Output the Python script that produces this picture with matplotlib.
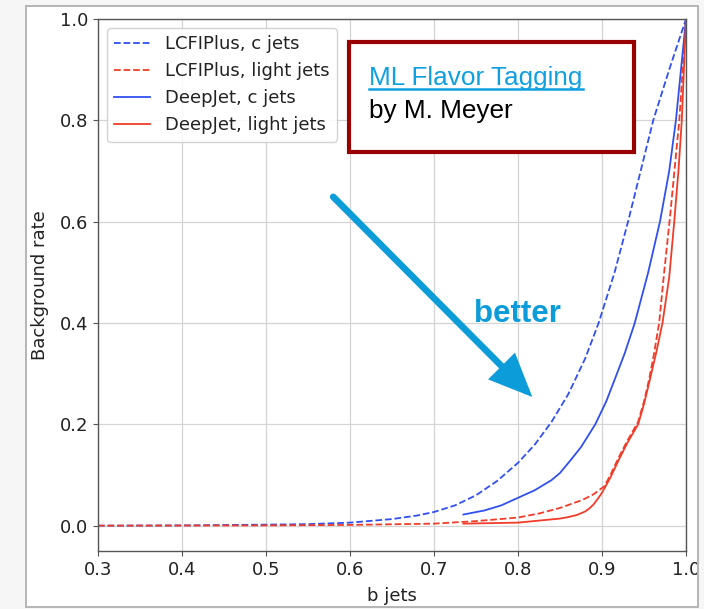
import matplotlib
matplotlib.use("Agg")
import matplotlib.pyplot as plt
from matplotlib.patches import Rectangle
from matplotlib.lines import Line2D

# ---- data ----
lcfi_c_x = [0.30, 0.40, 0.50, 0.55, 0.60, 0.65, 0.68, 0.70, 0.725, 0.75, 0.775, 0.80,
            0.82, 0.84, 0.86, 0.88, 0.896, 0.915, 0.931, 0.946, 0.961, 0.98, 1.0]
lcfi_c_y = [0.0, 0.0005, 0.002, 0.003, 0.006, 0.013, 0.020, 0.027, 0.040, 0.060, 0.088, 0.124,
            0.160, 0.205, 0.260, 0.330, 0.40, 0.50, 0.60, 0.70, 0.80, 0.90, 1.0]

lcfi_l_x = [0.30, 0.50, 0.60, 0.70, 0.75, 0.80, 0.825, 0.85, 0.877, 0.89, 0.903, 0.91,
            0.92, 0.93, 0.943, 0.95, 0.956, 0.962, 0.968, 0.974, 0.981, 0.992, 1.0]
lcfi_l_y = [0.0, 0.0005, 0.0015, 0.004, 0.009, 0.016, 0.024, 0.035, 0.051, 0.062, 0.078, 0.100,
            0.135, 0.167, 0.205, 0.245, 0.288, 0.34, 0.40, 0.50, 0.61, 0.80, 1.0]

deep_c_x = [0.735, 0.76, 0.78, 0.80, 0.82, 0.84, 0.85, 0.862, 0.875, 0.892, 0.905, 0.915,
            0.927, 0.939, 0.955, 0.969, 0.98, 0.988, 1.0]
deep_c_y = [0.022, 0.030, 0.040, 0.055, 0.070, 0.090, 0.104, 0.128, 0.155, 0.20, 0.245, 0.288,
            0.34, 0.40, 0.50, 0.60, 0.70, 0.80, 1.0]

deep_l_x = [0.735, 0.80, 0.85, 0.86, 0.87, 0.88, 0.885, 0.89, 0.895, 0.90, 0.91, 0.92, 0.93,
            0.943, 0.95, 0.957, 0.965, 0.972, 0.98, 0.986, 0.991, 0.995, 1.0]
deep_l_y = [0.004, 0.006, 0.014, 0.017, 0.021, 0.028, 0.034, 0.042, 0.053, 0.065, 0.095, 0.13, 0.163,
            0.20, 0.24, 0.288, 0.345, 0.40, 0.49, 0.60, 0.70, 0.80, 1.0]

labels = ["LCFIPlus, c jets", "LCFIPlus, light jets", "DeepJet, c jets", "DeepJet, light jets"]
x_ticks = [0.3, 0.4, 0.5, 0.6, 0.7, 0.8, 0.9, 1.0]
y_ticks = [0.0, 0.2, 0.4, 0.6, 0.8, 1.0]

BLUE = "#3050f0"
RED = "#f03c28"
CYAN = "#0c9cda"

W, H = 704, 609
fig = plt.figure(figsize=(W / 100, H / 100), dpi=100, facecolor="#f6f6f6")

# slide panel (white card with grey edge)
fig.patches.append(Rectangle((26 / W, 1 - 607 / H), (698 - 26) / W, (607 - 6) / H,
                             transform=fig.transFigure, facecolor="white",
                             edgecolor="#b5b5b5", lw=1.4, zorder=-5))

ax = fig.add_axes([98 / W, (H - 551) / H, 588 / W, 532 / H])
ax.set_facecolor("white")

lw = 1.3
ax.plot(lcfi_c_x, lcfi_c_y, ls="--", color=BLUE, lw=lw, label=labels[0])
ax.plot(lcfi_l_x, lcfi_l_y, ls="--", color=RED, lw=lw, label=labels[1])
ax.plot(deep_c_x, deep_c_y, ls="-", color=BLUE, lw=lw, label=labels[2])
ax.plot(deep_l_x, deep_l_y, ls="-", color=RED, lw=lw, label=labels[3])

ax.set_xlim(0.3, 1.0)
ax.set_ylim(-0.05, 1.0)
ax.set_xticks(x_ticks)
ax.set_yticks(y_ticks)
ax.set_xticklabels([f"{v:.1f}" for v in x_ticks])
ax.set_yticklabels([f"{v:.1f}" for v in y_ticks])
ax.grid(True, color="#d4d4d4", lw=0.9)
ax.set_axisbelow(True)
for s in ax.spines.values():
    s.set_color("#555555")
    s.set_linewidth(1.0)
ax.tick_params(labelsize=13, colors="#555555", labelcolor="#222222")
ax.set_xlabel("b jets", fontsize=13, color="#222222", labelpad=6)
ax.set_ylabel("Background rate", fontsize=13, color="#222222", labelpad=8)

leg = ax.legend(loc="upper left", fontsize=13, frameon=True, framealpha=0.85,
                edgecolor="#cccccc")
for t in leg.get_texts():
    t.set_color("#222222")

# red title box
ax.add_patch(Rectangle((0.599, 0.738), 0.938 - 0.599, 0.955 - 0.738,
                       facecolor="white", edgecolor="#990000", lw=3.0,
                       zorder=5, clip_on=False))
title = ax.text(0.623, 0.870, "ML Flavor Tagging", fontsize=18.8,
                family="Liberation Sans", color="#10a0e0", va="baseline",
                ha="left", zorder=6)
ax.text(0.623, 0.805, "by M. Meyer", fontsize=18.8, family="Liberation Sans",
        color="black", va="baseline", ha="left", zorder=6)

# arrow + "better"
ax.annotate("", xy=(0.817, 0.254), xytext=(0.580, 0.649),
            arrowprops=dict(arrowstyle="-|>,head_length=1.15,head_width=0.5",
                            mutation_scale=20, lw=4.8, color=CYAN,
                            shrinkA=0, shrinkB=0, joinstyle="miter"),
            zorder=4)
ax.text(0.799, 0.417, "better", fontsize=22.5, fontweight="bold",
        family="Liberation Sans", color=CYAN, ha="center", va="center", zorder=4)

# underline for the link text
fig.canvas.draw()
r = fig.canvas.get_renderer()
bb = title.get_window_extent(r)
base = ax.transData.transform((0.623, 0.870))[1]
uy = base - 4.6
fig.lines.append(Line2D([bb.x0 / W, bb.x1 / W], [uy / H, uy / H],
                        transform=fig.transFigure, color="#10a0e0", lw=1.8, zorder=7))

# right slide edge overlapping the last tick label
fig.patches.append(Rectangle((698 / W, 0), (W - 698) / W, 1, transform=fig.transFigure,
                             facecolor="#f6f6f6", edgecolor="none", zorder=20))
fig.lines.append(Line2D([698 / W, 698 / W], [1 - 607 / H, 1 - 6 / H],
                        transform=fig.transFigure, color="#b5b5b5", lw=1.4, zorder=21))

fig.savefig("out.png", dpi=100, facecolor=fig.get_facecolor())
